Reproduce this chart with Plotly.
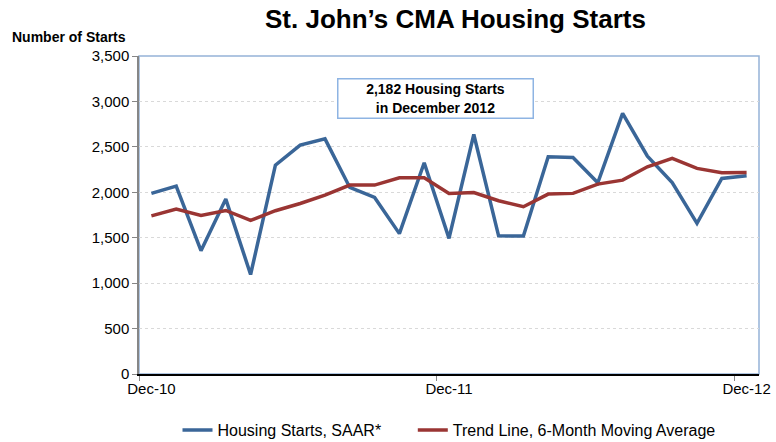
import plotly.graph_objects as go

months = ["Dec-10","Jan-11","Feb-11","Mar-11","Apr-11","May-11","Jun-11","Jul-11","Aug-11","Sep-11","Oct-11","Nov-11",
          "Dec-11","Jan-12","Feb-12","Mar-12","Apr-12","May-12","Jun-12","Jul-12","Aug-12","Sep-12","Oct-12","Nov-12","Dec-12"]
starts_saar = [1988, 2068, 1357, 1925, 1095, 2299, 2519, 2588, 2053, 1943, 1545, 2325,
               1493, 2636, 1521, 1518, 2390, 2383, 2104, 2868, 2398, 2108, 1658, 2152, 2182]
trend_6m = [1741, 1815, 1745, 1800, 1690, 1797, 1877, 1969, 2079, 2079, 2160, 2160,
            1988, 1998, 1907, 1841, 1980, 1988, 2090, 2134, 2281, 2373, 2263, 2215, 2219]
y_ticks = [0, 500, 1000, 1500, 2000, 2500, 3000, 3500]
x_labels = ["Dec-10", "Dec-11", "Dec-12"]

idx = list(range(len(months)))
label_pos = [months.index(m) for m in x_labels]
tick_marks = [p - 0.5 for p in label_pos]

FONT = "Liberation Sans, Arial, sans-serif"
PAD = "\u00a0" * 6

fig = go.Figure()
fig.add_trace(go.Scatter(x=idx, y=starts_saar, mode="lines", name="Housing Starts, SAAR*" + PAD,
                         line=dict(color="#3a6698", width=3.5), customdata=months))
fig.add_trace(go.Scatter(x=idx, y=trend_6m, mode="lines", name="Trend Line, 6-Month Moving Average",
                         line=dict(color="#9a3533", width=3.5), customdata=months))

fig.update_layout(
    width=776, height=442,
    margin=dict(l=139, r=17, t=56, b=68, autoexpand=False),
    paper_bgcolor="white", plot_bgcolor="white",
    font=dict(family=FONT, size=15, color="black"),
    showlegend=True,
    legend=dict(orientation="h", x=0.5, xanchor="center", xref="paper",
                y=1 - 430 / 442, yanchor="middle", yref="container",
                font=dict(family=FONT, size=16), itemwidth=30, tracegroupgap=0,
                bgcolor="rgba(0,0,0,0)"),
    xaxis=dict(range=[-0.5, len(months) - 0.5], tickmode="array", tickvals=label_pos,
               ticktext=x_labels, ticks="", showgrid=False, zeroline=False, automargin=False,
               showline=True, linecolor="black", linewidth=1.5,
               tickfont=dict(family=FONT, size=15),
               minor=dict(tickmode="array", tickvals=tick_marks, ticks="outside",
                          ticklen=5, tickcolor="#868686", showgrid=False)),
    yaxis=dict(range=[0, 3500], tickmode="array", tickvals=y_ticks, automargin=False,
               ticktext=[f"{v:,}" for v in y_ticks], ticks="outside", ticklen=5,
               tickcolor="#868686", showgrid=True, gridcolor="#d9d9d9", griddash="dot",
               gridwidth=1, zeroline=False, showline=True, linecolor="#868686",
               linewidth=1.5, tickfont=dict(family=FONT, size=15)),
)

fig.add_shape(type="rect", xref="paper", yref="paper", x0=0, x1=1, y0=0, y1=1,
              line=dict(color="#95b3d7", width=1.5), layer="below")

# chart title
fig.add_annotation(text="<b>St. John’s CMA Housing Starts</b>", xref="paper", yref="paper",
                   x=0.51, y=1 + (56 - 19) / 318, xanchor="center", yanchor="middle",
                   showarrow=False, font=dict(family=FONT, size=26, color="black"))

fig.add_annotation(text="<b>Number of Starts</b>", xref="paper", yref="paper",
                   x=-0.208, y=1 + (56 - 37) / 318, xanchor="left", yanchor="middle", showarrow=False,
                   font=dict(family=FONT, size=14, color="black"))

fig.add_annotation(text="<b>2,182 Housing Starts<br>in December 2012</b>", xref="paper", yref="paper",
                   x=0.478, y=0.866, xanchor="center", yanchor="middle", showarrow=False,
                   font=dict(family=FONT, size=14, color="black"), align="center",
                   bordercolor="#8eb4e3", borderwidth=1.5, borderpad=4, bgcolor="white",
                   width=186, height=30)

fig.write_html("out.html", config={"displayModeBar": False})

# remove the default page margin so the figure sits at the window's top-left corner
with open("out.html", "r", encoding="utf-8") as f:
    html = f.read()
html = html.replace("<head>", "<head><style>html,body{margin:0;padding:0;overflow:hidden;}</style>", 1)
with open("out.html", "w", encoding="utf-8") as f:
    f.write(html)
